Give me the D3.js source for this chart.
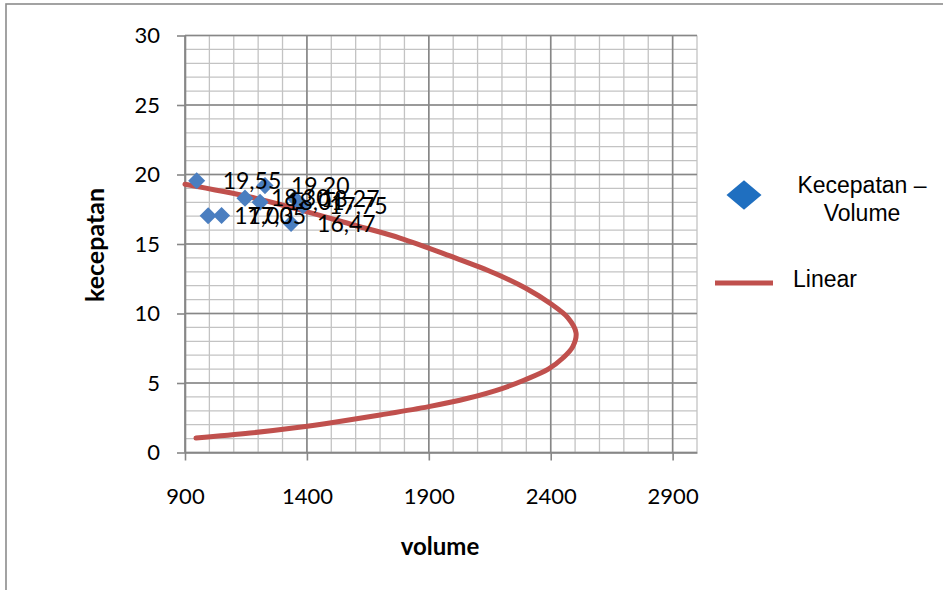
<!DOCTYPE html>
<html>
<head>
<meta charset="utf-8">
<script src="https://cdn.jsdelivr.net/npm/d3@7"></script>
<style>
  body { margin: 0; background: #fff; }
  svg { display: block; }
</style>
</head>
<body>
<svg id="chart" width="943" height="590"></svg>
<script>
// data
const volume    = [948, 995, 1050, 1146, 1208, 1228, 1351, 1384, 1335];
const kecepatan = [19.55, 17.03, 17.05, 18.30, 18.01, 19.20, 18.27, 17.75, 16.47];

// trend curve
const trendVolume    = [900, 1167, 1372, 1577, 1782, 1987, 2170, 2300, 2400, 2470, 2504, 2490, 2450, 2390, 2290, 2200, 2060, 1900, 1700, 1520, 1360, 1167, 945];
const trendKecepatan = [19.3, 18.38, 17.45, 16.44, 15.43, 14.14, 12.9, 11.8, 10.7, 9.7, 8.6, 7.6, 6.8, 6.0, 5.2, 4.6, 3.9, 3.3, 2.7, 2.2, 1.8, 1.4, 1.04];

const xTicks = [900, 1400, 1900, 2400, 2900];
const yTicks = [0, 5, 10, 15, 20, 25, 30];

const svg = d3.select("#chart");
const huruf = "Lato, 'Open Sans', sans-serif";

// outer frame (runs off the right and bottom)
svg.append("rect")
    .attr("x", 6).attr("y", 4)
    .attr("width", 1000).attr("height", 700)
    .attr("fill", "none")
    .attr("stroke", "#8c8c8c")
    .attr("stroke-width", 1.6);

const x = d3.scaleLinear().domain([900, 3000]).range([185, 697]);
const y = d3.scaleLinear().domain([0, 30]).range([452.5, 35.5]);

const g = svg.append("g");

// minor grid
g.append("g").selectAll("line")
    .data(d3.range(900, 3001, 100))
    .join("line")
    .attr("x1", d => x(d)).attr("x2", d => x(d))
    .attr("y1", y(0)).attr("y2", y(30))
    .attr("stroke", "#c3c3c3").attr("stroke-width", 1.3);
g.append("g").selectAll("line")
    .data(d3.range(0, 31, 1))
    .join("line")
    .attr("x1", x(900)).attr("x2", x(3000))
    .attr("y1", d => y(d)).attr("y2", d => y(d))
    .attr("stroke", "#c3c3c3").attr("stroke-width", 1.3);

// major grid
g.append("g").selectAll("line")
    .data(xTicks)
    .join("line")
    .attr("x1", d => x(d)).attr("x2", d => x(d))
    .attr("y1", y(0)).attr("y2", y(30))
    .attr("stroke", "#878787").attr("stroke-width", 1.6);
g.append("g").selectAll("line")
    .data(yTicks)
    .join("line")
    .attr("x1", x(900)).attr("x2", x(3000))
    .attr("y1", d => y(d)).attr("y2", d => y(d))
    .attr("stroke", "#878787").attr("stroke-width", 1.6);

// axes
const xAxis = g.append("g")
    .attr("transform", `translate(0,${y(0)})`)
    .call(d3.axisBottom(x).tickValues(xTicks).tickFormat(d3.format("d"))
        .tickSize(8).tickPadding(28).tickSizeOuter(0));
const yAxis = g.append("g")
    .attr("transform", `translate(${x(900)},0)`)
    .call(d3.axisLeft(y).tickValues(yTicks).tickFormat(d3.format("d"))
        .tickSize(8).tickPadding(17).tickSizeOuter(0));

[xAxis, yAxis].forEach(a => {
    a.select(".domain").attr("stroke", "#878787").attr("stroke-width", 1.6);
    a.selectAll(".tick line").attr("stroke", "#878787").attr("stroke-width", 1.6);
    a.selectAll(".tick text")
        .attr("fill", "#000")
        .style("font-family", huruf)
        .style("font-size", "22px");
});

// axis titles
svg.append("text")
    .attr("x", 440).attr("y", 555)
    .attr("text-anchor", "middle")
    .style("font-family", huruf)
    .style("font-weight", "bold")
    .style("font-size", "24px")
    .text("volume");
svg.append("text")
    .attr("transform", "translate(104,245) rotate(-90)")
    .attr("text-anchor", "middle")
    .style("font-family", huruf)
    .style("font-weight", "bold")
    .style("font-size", "25px")
    .text("kecepatan");

// trend line
const line = d3.line()
    .x((d, i) => x(trendVolume[i]))
    .y((d, i) => y(d))
    .curve(d3.curveCatmullRom);
g.append("path")
    .attr("d", line(trendKecepatan))
    .attr("fill", "none")
    .attr("stroke", "#c0504d")
    .attr("stroke-width", 5)
    .attr("stroke-linecap", "round");

// points
const titik = volume.map((v, i) => ({ v: v, k: kecepatan[i] }));
const diamond = d3.symbol().type(d3.symbolDiamond2).size(185);

g.selectAll(".titik")
    .data(titik)
    .join("path")
    .attr("class", "titik")
    .attr("d", diamond)
    .attr("transform", d => `translate(${x(d.v)},${y(d.k)})`)
    .attr("fill", "#4a7ec0");

const koma = d => d3.format(".2f")(d).replace(".", ",");
g.selectAll(".label")
    .data(titik)
    .join("text")
    .attr("class", "label")
    .attr("x", d => x(d.v) + 26)
    .attr("y", d => y(d.k))
    .attr("dy", "0.35em")
    .style("font-family", huruf)
    .style("font-size", "23px")
    .text(d => koma(d.k));

// legend
const leg = svg.append("g");
const legHuruf = "'Liberation Sans', Arial, sans-serif";
leg.append("path")
    .attr("d", d3.symbol().type(d3.symbolDiamond2).size(560))
    .attr("transform", "translate(744,195) scale(1.18,1)")
    .attr("fill", "#1f6fc0");
leg.append("text")
    .attr("x", 862).attr("y", 193)
    .attr("text-anchor", "middle")
    .style("font-family", legHuruf)
    .style("font-size", "23px")
    .text("Kecepatan –");
leg.append("text")
    .attr("x", 862).attr("y", 221)
    .attr("text-anchor", "middle")
    .style("font-family", legHuruf)
    .style("font-size", "23px")
    .text("Volume");
leg.append("line")
    .attr("x1", 715).attr("x2", 773)
    .attr("y1", 283).attr("y2", 283)
    .attr("stroke", "#c0504d")
    .attr("stroke-width", 5);
leg.append("text")
    .attr("x", 793).attr("y", 287)
    .style("font-family", legHuruf)
    .style("font-size", "23px")
    .text("Linear");
</script>
</body>
</html>
